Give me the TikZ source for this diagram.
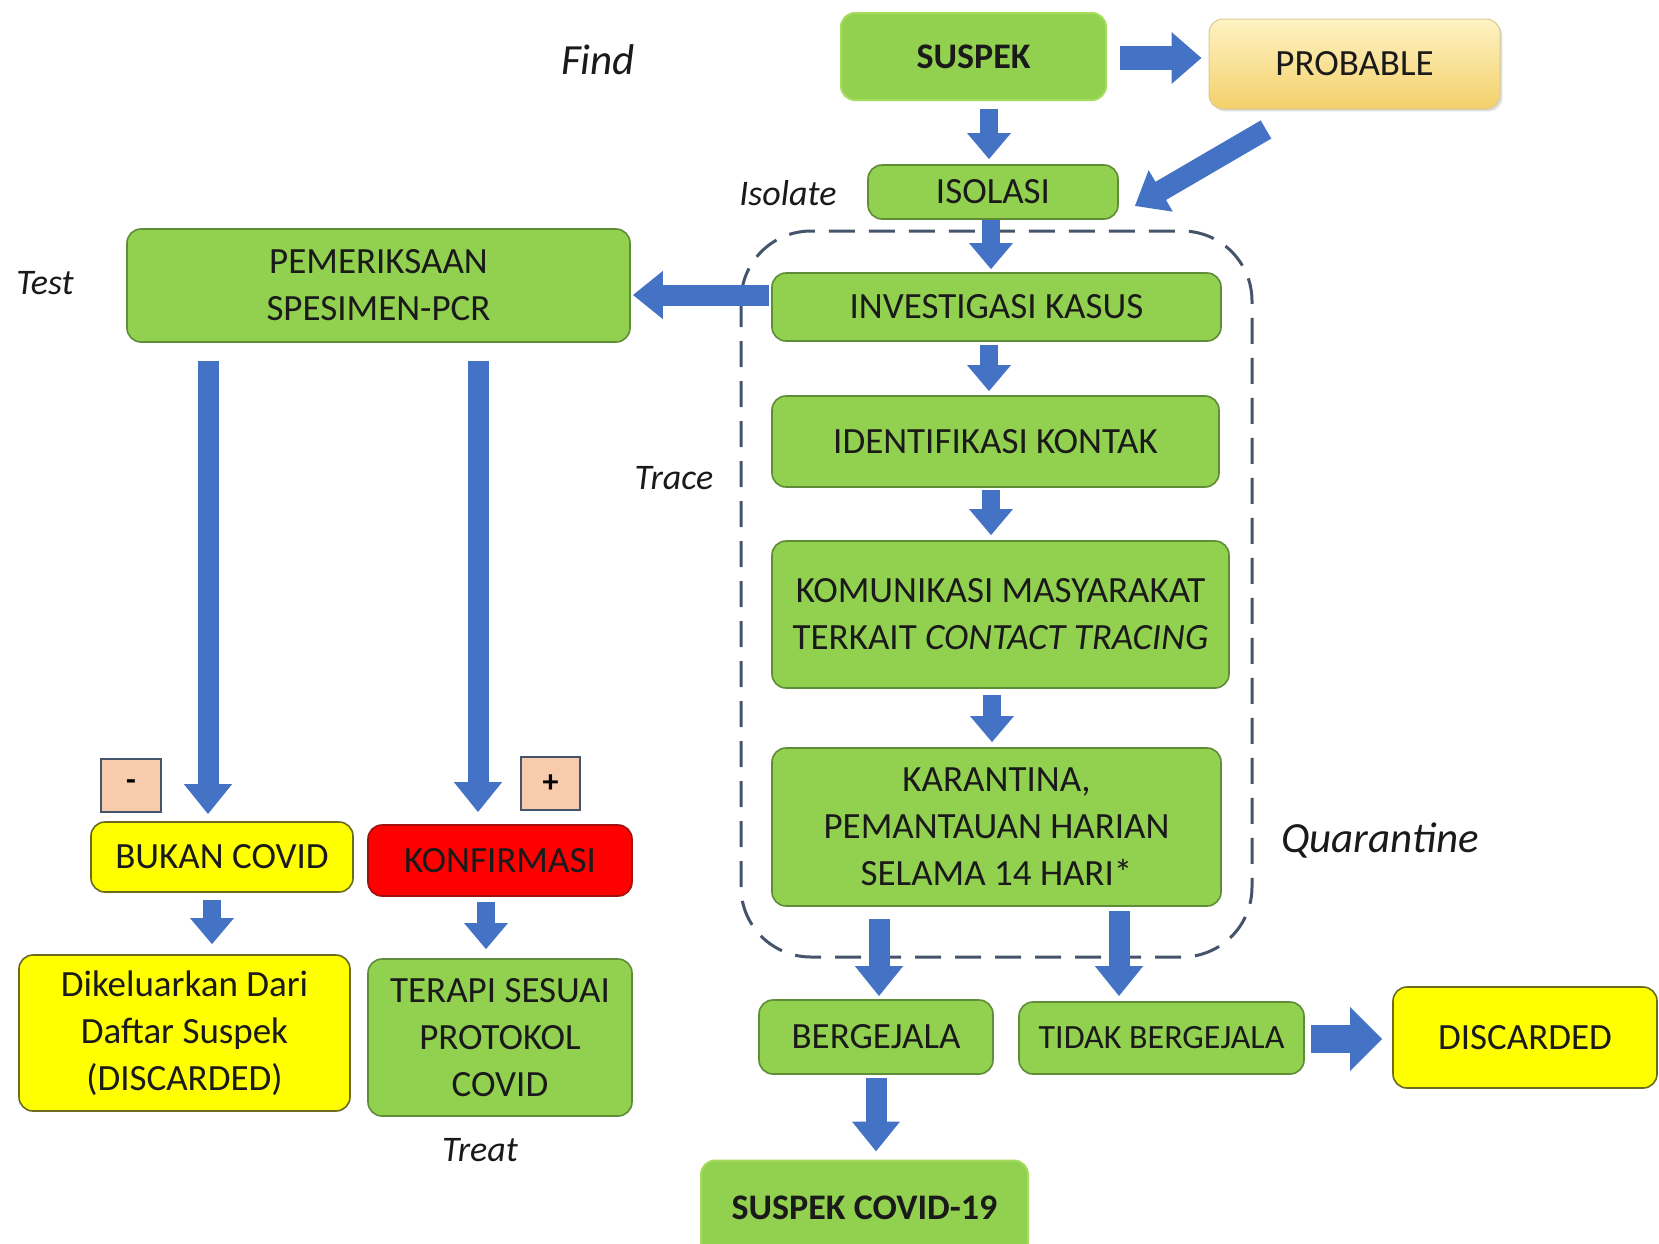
\documentclass[tikz,border=0pt]{standalone}
\usepackage{fontspec}
\setmainfont{Carlito}
\usetikzlibrary{arrows.meta,calc,shadows}
\definecolor{gfill}{HTML}{92D050}
\definecolor{gline}{HTML}{5E8C37}
\definecolor{glight}{HTML}{A6DC5E}
\definecolor{yfill}{HTML}{FFFF00}
\definecolor{yline}{HTML}{6B6B1E}
\definecolor{rfill}{HTML}{FF0000}
\definecolor{rline}{HTML}{A01010}
\definecolor{peach}{HTML}{F8CBAD}
\definecolor{pline}{HTML}{44546A}
\definecolor{ablue}{HTML}{4472C4}
\definecolor{dline}{HTML}{44546A}
\definecolor{ptop}{HTML}{FFF3C4}
\definecolor{pbot}{HTML}{F3D06A}
\definecolor{tcol}{HTML}{1A1A1A}
\begin{document}
\begin{tikzpicture}[x=1pt,y=-1pt,
  box/.style={draw=gline, line width=1.6pt, fill=gfill, rounded corners=14pt, inner sep=0pt,
    align=center, text=tcol, font=\fontsize{37}{47}\selectfont},
  ybox/.style={box, draw=yline, fill=yfill},
  rbox/.style={box, draw=rline, fill=rfill},
  gbold/.style={box, draw=glight, line width=2pt, font=\fontsize{36}{44}\selectfont\bfseries},
  signbox/.style={draw=pline, line width=1.6pt, fill=peach, inner sep=0pt, text=black,
    font=\fontsize{32}{38}\selectfont\bfseries},
  lab/.style={text=tcol, font=\fontsize{36}{42}\selectfont\itshape, inner sep=0pt},
  biglab/.style={text=tcol, font=\fontsize{43}{50}\selectfont\itshape, inner sep=0pt},
  arr/.style={draw=ablue, line width=18pt, -{Triangle[width=42pt,length=26pt]}},
  larr/.style={draw=ablue, line width=21pt, -{Triangle[width=46pt,length=30pt]}},
  harr/.style={draw=ablue, line width=24pt, -{Triangle[width=50pt,length=30pt]}},
  xarr/.style={draw=ablue, line width=28pt, -{Triangle[width=62pt,length=32pt]}}
]
\useasboundingbox[fill=white] (0,0) rectangle (1659,1243);

% dashed region
\draw[dline, line width=3pt, dash pattern=on 26pt off 14pt, rounded corners=70pt]
  (741,231) rectangle (1252,957);

% nodes
\node[gbold, minimum width=265pt, minimum height=87pt] (suspek) at (973.5,56.5) {SUSPEK};
\node[box, draw=pbot!80!black!60, line width=1pt, top color=ptop, bottom color=pbot, drop shadow={opacity=0.25},
  minimum width=291pt, minimum height=90pt] (prob) at (1354.5,64) {PROBABLE};
\node[box, minimum width=250pt, minimum height=54pt] (isol) at (993,192) {ISOLASI};
\node[box, minimum width=449pt, minimum height=68pt] (inv) at (996.5,307) {INVESTIGASI KASUS};
\node[box, minimum width=503pt, minimum height=113pt] (pem) at (378.5,285.5) {PEMERIKSAAN\\SPESIMEN-PCR};
\node[box, minimum width=447pt, minimum height=91pt] (ident) at (995.5,441.5) {IDENTIFIKASI KONTAK};
\node[box, minimum width=457pt, minimum height=147pt] (kom) at (1000.5,614.5) {KOMUNIKASI MASYARAKAT\\TERKAIT \textit{CONTACT TRACING}};
\node[box, minimum width=449pt, minimum height=158pt] (kar) at (996.5,827) {KARANTINA,\\PEMANTAUAN HARIAN\\SELAMA 14 HARI*};
\node[box, minimum width=234pt, minimum height=74pt] (berg) at (876,1037) {BERGEJALA};
\node[box, minimum width=285pt, minimum height=72pt, font=\fontsize{34}{44}\selectfont] (tidak) at (1161.5,1038) {TIDAK BERGEJALA};
\node[ybox, minimum width=264pt, minimum height=101pt] (disc) at (1525,1037.5) {DISCARDED};
\node[gbold, minimum width=327pt, minimum height=95pt] (scov) at (864.5,1208) {SUSPEK COVID-19};
\node[signbox, minimum width=60pt, minimum height=53pt] (minus) at (131,785.5) {-};
\node[signbox, minimum width=59pt, minimum height=53pt] (plus) at (550.5,783.5) {+};
\node[ybox, minimum width=262pt, minimum height=70pt] (bukan) at (222,857) {BUKAN COVID};
\node[rbox, minimum width=264pt, minimum height=71pt] (konf) at (500,860.5) {KONFIRMASI};
\node[ybox, minimum width=331pt, minimum height=156pt] (dik) at (184.5,1033) {Dikeluarkan Dari\\Daftar Suspek\\(DISCARDED)};
\node[box, minimum width=264pt, minimum height=157pt] (ter) at (500,1037.5) {TERAPI SESUAI\\PROTOKOL\\COVID};

% labels
\node[biglab] (find) at (598,60) {Find};
\node[lab] (isolate) at (788,193) {Isolate};
\node[lab] (test) at (45,283) {Test};
\node[lab] (trace) at (674,478) {Trace};
\node[biglab] (quar) at (1380,840) {Quarantine};
\node[lab] (treat) at (480,1150) {Treat};

% arrows
\draw[harr] ($(suspek.east)+(13,1.5)$) -- ($(prob.west)+(-7,-6)$);
\draw[arr] ($(suspek.south)+(15.5,8)$) -- ($(isol.north)+(-4,-5)$);
\draw[larr] ($(prob.south)+(-88.5,20)$) -- ($(isol.east)+(16,14)$);
\draw[arr] ($(isol.south)+(-2,0)$) -- ($(inv.north)+(-5.5,-3)$);
\draw[larr] ($(inv.west)+(-2,-12)$) -- ($(pem.east)+(2,9.5)$);
\draw[arr] ($(inv.south)+(-7.5,3)$) -- ($(ident.north)+(-6.5,-4)$);
\draw[arr] ($(ident.south)+(-4.5,2)$) -- ($(kom.north)+(-9.5,-5)$);
\draw[arr] ($(kom.south)+(-8.5,6)$) -- ($(kar.north)+(-4.5,-5)$);
\draw[larr] ($(kar.south)+(-117.5,12)$) -- ($(berg.north)+(3,-3)$);
\draw[larr] ($(kar.south)+(122.5,4)$) -- ($(tidak.north)+(-42.5,-5)$);
\draw[xarr] ($(tidak.east)+(6,1)$) -- ($(disc.west)+(-10,1.5)$);
\draw[larr] ($(berg.south)+(0,3)$) -- ($(scov.north)+(11.5,-8)$);
\draw[larr] ($(pem.south)+(-170.5,18)$) -- ($(bukan.north)+(-14,-7)$);
\draw[larr] ($(pem.south)+(99.5,18)$) -- ($(konf.north)+(-22,-12)$);
\draw[arr] ($(bukan.south)+(-10,7)$) -- ($(dik.north)+(27.5,-10)$);
\draw[arr] ($(konf.south)+(-14,5)$) -- ($(ter.north)+(-14,-9)$);
\end{tikzpicture}
\end{document}
